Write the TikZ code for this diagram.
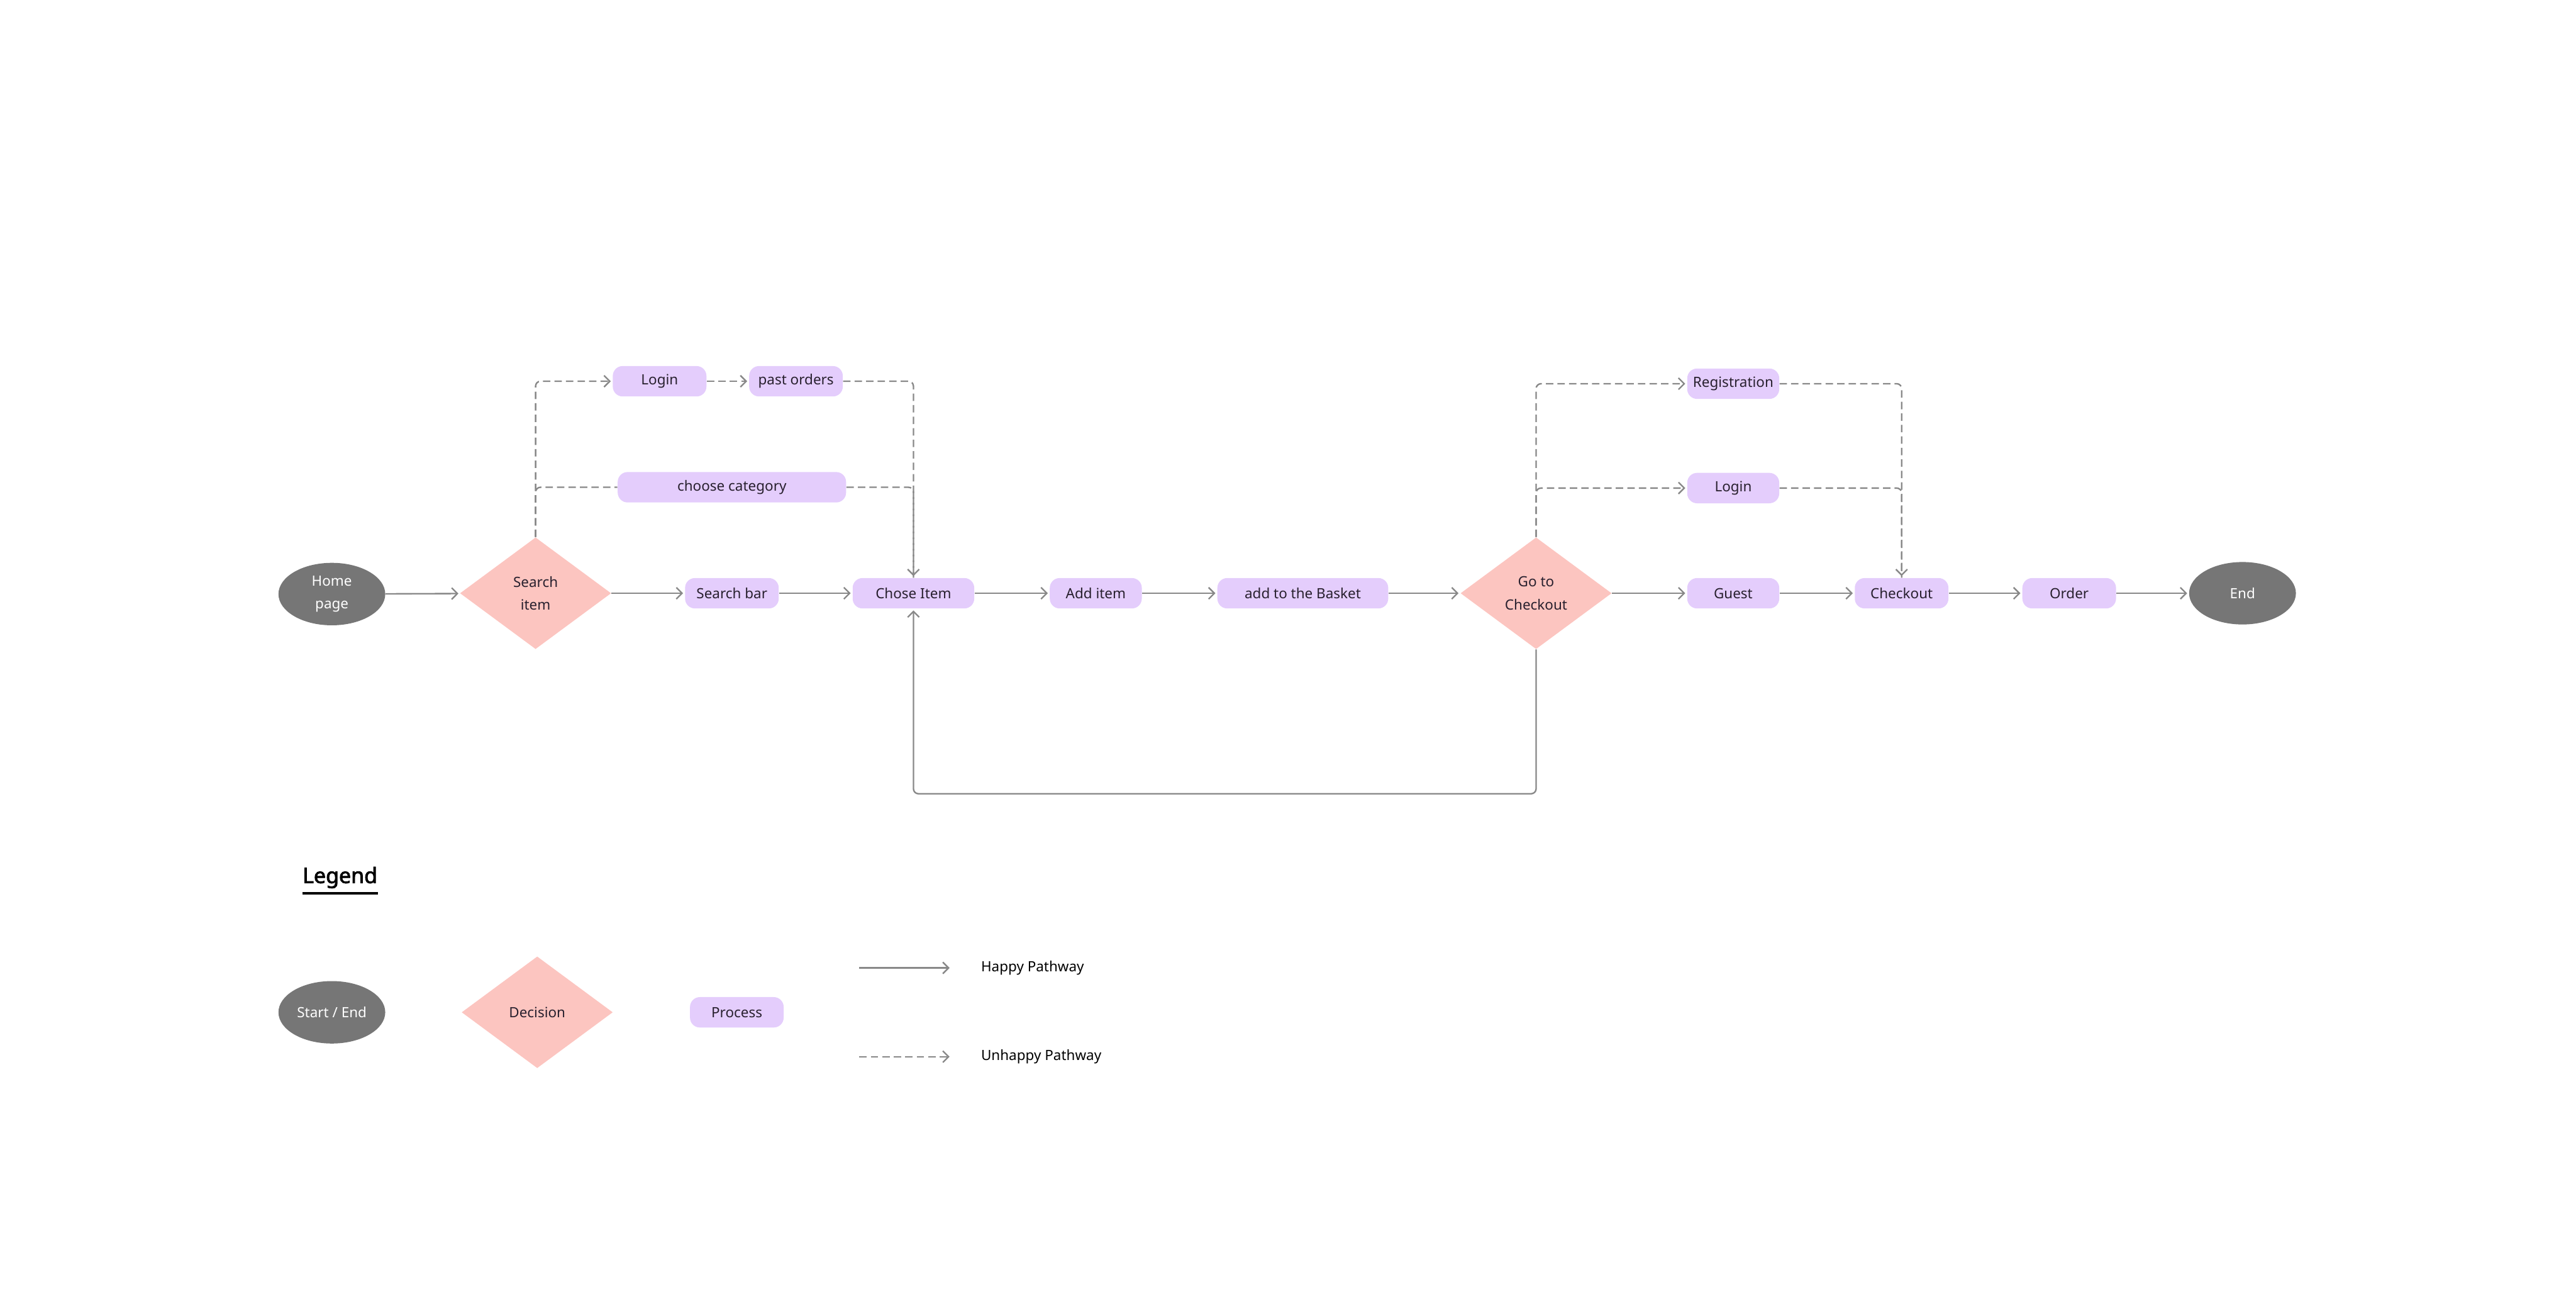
\documentclass[tikz,border=0pt]{standalone}
\usepackage{fontspec}
\setmainfont{Noto Sans}
\newfontfamily\legfont{Noto Sans}[FakeBold=2.5]
\usetikzlibrary{shapes.geometric,arrows.meta}
\definecolor{termgray}{RGB}{118,118,118}
\definecolor{decpink}{RGB}{252,197,192}
\definecolor{proclav}{RGB}{228,205,252}
\definecolor{linegray}{RGB}{136,136,136}
\definecolor{txt}{RGB}{40,32,46}
\begin{document}
\begin{tikzpicture}[x=1pt,y=-1pt,
  every node/.style={font=\fontsize{8.6}{14}\selectfont},
  term/.style={ellipse,fill=termgray,text=white,minimum width=65pt,minimum height=38pt,inner sep=0pt,align=center},
  decision/.style={diamond,fill=decpink,text=txt,minimum width=92pt,minimum height=68pt,inner sep=0pt,aspect=1.35,align=center},
  proc/.style={rectangle,rounded corners=6pt,fill=proclav,text=txt,minimum height=18.5pt,inner sep=0pt},
  happy/.style={draw=linegray,line width=0.9pt,-{Straight Barb[length=3.5pt,width=7pt]},shorten >=1pt,rounded corners=3pt},
  unhappy/.style={happy,dash pattern=on 4.5pt off 2.5pt},
  unhappyline/.style={draw=linegray,line width=0.9pt,dash pattern=on 4.5pt off 2.5pt,rounded corners=3pt}]
\path[use as bounding box] (0,0) rectangle (1568,784);

% main row
\node[term] (home) at (202,361.5) {Home\\page};
\node[decision] (search) at (326,361) {Search\\item};
\node[proc,minimum width=57pt] (sbar) at (445.5,361) {Search bar};
\node[proc,minimum width=74pt] (chose) at (556,361) {Chose Item};
\node[proc,minimum width=56pt] (add) at (667,361) {Add item};
\node[proc,minimum width=104pt] (basket) at (793,361) {add to the Basket};
\node[decision] (goto) at (935,361) {Go to\\Checkout};
\node[proc,minimum width=56pt] (guest) at (1055,361) {Guest};
\node[proc,minimum width=57pt] (checkout) at (1157.5,361) {Checkout};
\node[proc,minimum width=57pt] (order) at (1259.5,361) {Order};
\node[term] (end) at (1365,361) {End};

% upper branches
\node[proc,minimum width=57pt] (login) at (401.5,232) {Login};
\node[proc,minimum width=57pt] (past) at (484.5,232) {past orders};
\node[proc,minimum width=139pt] (cat) at (445.5,296.5) {choose category};
\node[proc,minimum width=56pt] (reg) at (1055,233.5) {Registration};
\node[proc,minimum width=56pt] (login2) at (1055,297) {Login};

% happy path
\draw[happy] (home) -- (search);
\draw[happy] (search) -- (sbar);
\draw[happy] (sbar) -- (chose);
\draw[happy] (chose) -- (add);
\draw[happy] (add) -- (basket);
\draw[happy] (basket) -- (goto);
\draw[happy] (goto) -- (guest);
\draw[happy] (guest) -- (checkout);
\draw[happy] (checkout) -- (order);
\draw[happy] (order) -- (end);
\coordinate (loopc) at (935,483);
\draw[happy] (goto.south) -- (loopc) -| (chose.south);

% unhappy paths
\draw[unhappy] (search.north) |- (login.west);
\draw[unhappyline] (search.north) |- (cat.west);
\draw[unhappy] (login) -- (past);
\draw[unhappy] (past.east) -| (chose.north);
\draw[unhappyline] (cat.east) -| (chose.north);
\draw[unhappy] (goto.north) |- (reg.west);
\draw[unhappy] (goto.north) |- (login2.west);
\draw[unhappy] (reg.east) -| (checkout.north);
\draw[unhappyline] (login2.east) -| (checkout.north);

% legend
\node[anchor=west,inner sep=0pt,text=black,font=\fontsize{13}{15}\selectfont\legfont] (legtitle) at (184,534) {Legend};
\draw[black,line width=1.4pt] ([yshift=-3pt]legtitle.south west) -- ([yshift=-3pt]legtitle.south east);
\node[term] (lterm) at (202,616) {Start / End};
\node[decision] (ldec) at (327,616) {Decision};
\node[proc,minimum width=57pt] (lproc) at (448.5,616) {Process};
\coordinate (ha) at (523,589);
\coordinate (hb) at (578,589);
\coordinate (ua) at (523,643);
\coordinate (ub) at (578,643);
\draw[happy,shorten >=0pt] (ha) -- (hb);
\draw[unhappy,shorten >=0pt] (ua) -- (ub);
\node[anchor=west,inner sep=0pt,text=black] (htxt) at (597,589) {Happy Pathway};
\node[anchor=west,inner sep=0pt,text=black] (utxt) at (597,643) {Unhappy Pathway};
\end{tikzpicture}
\end{document}
